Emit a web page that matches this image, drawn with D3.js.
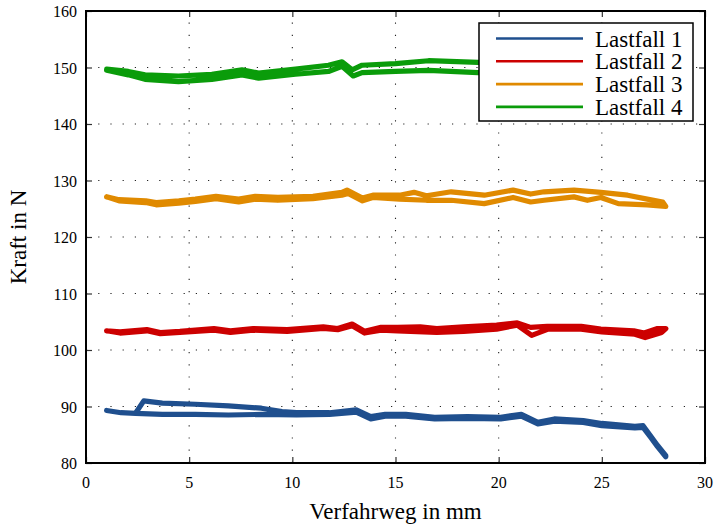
<!DOCTYPE html>
<html>
<head>
<meta charset="utf-8">
<script src="https://cdn.jsdelivr.net/npm/d3@7"></script>
<style>
  html, body { margin: 0; padding: 0; background: #fff; }
  svg { display: block; }
</style>
</head>
<body>
<svg id="chart" width="718" height="524"></svg>
<script>
// Messwerte: Kraft über Verfahrweg, je Lastfall Hin- und Rückweg
const seriesNames = ["Lastfall 1", "Lastfall 2", "Lastfall 3", "Lastfall 4"];
const seriesColors = ["#1f4f8e", "#cc0000", "#e08a00", "#0a9c0a"];

// Lastfall 1
const lf1HinX = [1.0, 1.7, 2.4, 3.7, 5.3, 6.9, 8.5, 10.2, 11.8, 13.1, 13.8, 14.5, 15.5, 16.9, 18.5, 20.1, 21.1, 21.9, 22.7, 24.1, 25.0, 26.6, 27.0, 27.4, 27.7, 28.1];
const lf1HinY = [89.3, 88.9, 88.8, 88.6, 88.6, 88.5, 88.6, 88.5, 88.6, 89.0, 87.8, 88.3, 88.3, 87.8, 87.9, 87.8, 88.3, 86.9, 87.4, 87.2, 86.6, 86.2, 86.3, 84.4, 82.9, 81.1];
const lf1RueckX = [28.1, 27.7, 27.4, 27.0, 26.6, 25.0, 24.1, 22.7, 21.9, 21.1, 20.1, 18.5, 16.9, 15.5, 14.5, 13.8, 13.1, 11.8, 10.2, 9.5, 8.5, 6.9, 5.3, 3.7, 2.8, 2.4];
const lf1RueckY = [81.3, 83.1, 84.6, 86.6, 86.5, 87.0, 87.5, 87.8, 87.2, 88.6, 88.1, 88.2, 88.1, 88.6, 88.6, 88.2, 89.4, 88.9, 88.9, 89.1, 89.7, 90.1, 90.4, 90.6, 91.0, 88.8];

// Lastfall 2
const lf2HinX = [1.0, 1.65, 2.95, 3.6, 4.55, 6.2, 7.0, 8.1, 9.75, 11.5, 12.2, 12.9, 13.5, 14.3, 15.1, 17.0, 18.3, 19.9, 20.9, 21.6, 22.4, 24.0, 25.0, 26.6, 27.1, 27.9];
const lf2HinY = [103.4, 103.0, 103.4, 102.9, 103.1, 103.5, 103.1, 103.5, 103.3, 103.8, 103.6, 104.3, 103.0, 103.5, 103.4, 103.1, 103.3, 103.7, 104.4, 102.6, 103.7, 103.7, 103.2, 102.8, 102.2, 103.1];
const lf2RueckX = [28.1, 27.7, 27.05, 26.55, 24.95, 24.0, 22.35, 21.55, 20.9, 19.9, 18.3, 17.0, 16.2, 15.1, 14.3, 13.5, 12.9, 12.2, 11.5, 9.75, 8.1, 7.0, 6.2, 4.55, 3.6, 2.95, 1.65, 1.0];
const lf2RueckY = [103.8, 103.8, 103.0, 103.4, 103.7, 104.2, 104.2, 104.0, 104.8, 104.4, 104.1, 103.8, 104.1, 104.0, 104.0, 103.3, 104.6, 103.8, 104.1, 103.6, 103.8, 103.4, 103.8, 103.3, 103.1, 103.6, 103.2, 103.4];

// Lastfall 3
const lf3HinX = [1.0, 1.6, 2.9, 3.4, 4.5, 5.3, 6.3, 7.4, 8.2, 9.3, 11.0, 12.4, 12.7, 13.4, 13.9, 15.2, 16.5, 17.7, 19.3, 20.7, 21.55, 22.2, 23.65, 24.3, 24.95, 25.8, 27.2, 28.1];
const lf3HinY = [127.1, 126.4, 126.1, 125.7, 126.0, 126.3, 126.8, 126.2, 126.7, 126.5, 126.8, 127.4, 127.7, 126.4, 127.0, 126.7, 126.5, 126.5, 125.9, 127.0, 126.2, 126.5, 127.1, 126.5, 127.0, 125.9, 125.7, 125.4];
const lf3RueckX = [28.1, 27.95, 27.2, 26.25, 24.95, 23.65, 22.2, 21.55, 20.7, 19.3, 17.7, 16.5, 15.9, 15.2, 13.9, 13.4, 12.65, 12.4, 11.0, 9.3, 8.2, 7.4, 6.3, 5.3, 4.5, 3.4, 2.9, 1.6, 1.0];
const lf3RueckY = [125.4, 126.2, 126.7, 127.4, 127.9, 128.3, 128.0, 127.6, 128.3, 127.4, 128.0, 127.3, 127.9, 127.4, 127.4, 126.9, 128.3, 127.9, 127.2, 127.0, 127.2, 126.7, 127.2, 126.7, 126.4, 126.1, 126.4, 126.6, 127.1];

// Lastfall 4
const lf4HinX = [1.0, 2.05, 2.86, 4.48, 6.1, 7.56, 8.37, 10.15, 11.75, 12.41, 12.9, 13.38, 15.0, 16.6, 19.0, 19.6];
const lf4HinY = [149.7, 149.3, 148.7, 148.5, 148.8, 149.6, 149.0, 149.7, 150.4, 151.0, 149.6, 150.4, 150.7, 151.2, 150.9, 150.9];
const lf4RueckX = [19.6, 19.0, 16.6, 15.0, 13.38, 12.95, 12.41, 11.75, 10.15, 8.37, 7.56, 6.1, 4.48, 2.86, 2.05, 1.0];
const lf4RueckY = [149.1, 149.1, 149.5, 149.3, 149.1, 148.5, 150.2, 149.3, 148.8, 148.1, 148.7, 147.9, 147.5, 147.9, 148.7, 149.5];

const xTicks = [0, 5, 10, 15, 20, 25, 30];
const yTicks = [80, 90, 100, 110, 120, 130, 140, 150, 160];

const series = [
  { hinX: lf1HinX, hinY: lf1HinY, rueckX: lf1RueckX, rueckY: lf1RueckY },
  { hinX: lf2HinX, hinY: lf2HinY, rueckX: lf2RueckX, rueckY: lf2RueckY },
  { hinX: lf3HinX, hinY: lf3HinY, rueckX: lf3RueckX, rueckY: lf3RueckY },
  { hinX: lf4HinX, hinY: lf4HinY, rueckX: lf4RueckX, rueckY: lf4RueckY }
];

// Layout
const plot = { left: 86, right: 705, top: 11, bottom: 463 };
const svg = d3.select("#chart");

const x = d3.scaleLinear().domain([0, 30]).range([plot.left, plot.right]);
const y = d3.scaleLinear().domain([80, 160]).range([plot.bottom, plot.top]);

// Dotted grid
const grid = svg.append("g").attr("class", "grid")
  .attr("stroke", "#222").attr("stroke-width", 1.1)
  .attr("stroke-dasharray", "1.2,11");
grid.selectAll("line.gx").data(xTicks.slice(1, -1)).join("line")
  .attr("x1", d => x(d)).attr("x2", d => x(d))
  .attr("y1", plot.bottom).attr("y2", plot.top);
grid.selectAll("line.gy").data(yTicks.slice(1, -1)).join("line")
  .attr("y1", d => y(d)).attr("y2", d => y(d))
  .attr("x1", plot.left).attr("x2", plot.right);

// Data lines (Hinweg + Rückweg as one trace)
const line = d3.line().x(d => x(d[0])).y(d => y(d[1]));
const dataG = svg.append("g").attr("class", "data");
series.forEach((s, i) => {
  const pts = s.hinX.map((v, k) => [v, s.hinY[k]])
    .concat(s.rueckX.map((v, k) => [v, s.rueckY[k]]));
  dataG.append("path")
    .attr("d", line(pts))
    .attr("fill", "none")
    .attr("stroke", seriesColors[i])
    .attr("stroke-width", 5.2)
    .attr("stroke-linejoin", "round")
    .attr("stroke-linecap", "round");
});

// Axes with inward ticks on all four sides
const tickLen = 6;
const tickStyle = g => {
  g.select(".domain").remove();
  g.selectAll(".tick line").attr("stroke", "#333").attr("stroke-width", 1.2);
};
const tickFont = g => g.selectAll("text")
  .attr("font-family", "'DejaVu Sans Mono', monospace")
  .attr("font-size", 16)
  .attr("letter-spacing", 1.4)
  .attr("fill", "#4a4a4a");

svg.append("g").attr("transform", `translate(0,${plot.bottom})`)
  .call(d3.axisTop(x).tickValues(xTicks).tickSize(tickLen).tickFormat(""))
  .call(tickStyle);
svg.append("g").attr("transform", `translate(0,${plot.top})`)
  .call(d3.axisBottom(x).tickValues(xTicks).tickSize(tickLen).tickFormat(""))
  .call(tickStyle);
svg.append("g").attr("transform", `translate(${plot.left},0)`)
  .call(d3.axisRight(y).tickValues(yTicks).tickSize(tickLen).tickFormat(""))
  .call(tickStyle);
svg.append("g").attr("transform", `translate(${plot.right},0)`)
  .call(d3.axisLeft(y).tickValues(yTicks).tickSize(tickLen).tickFormat(""))
  .call(tickStyle);

// Tick labels
svg.append("g").selectAll("text").data(xTicks).join("text")
  .attr("x", d => x(d)).attr("y", 488)
  .attr("text-anchor", "middle")
  .text(d => d)
  .call(tickFont);
svg.append("g").selectAll("text").data(yTicks).join("text")
  .attr("x", 77).attr("y", d => y(d) + 6)
  .attr("text-anchor", "end")
  .text(d => d)
  .call(tickFont);

// Frame
svg.append("rect")
  .attr("x", plot.left).attr("y", plot.top)
  .attr("width", plot.right - plot.left).attr("height", plot.bottom - plot.top)
  .attr("fill", "none").attr("stroke", "#000").attr("stroke-width", 2);

// Axis titles
svg.append("text")
  .attr("x", (plot.left + plot.right) / 2).attr("y", 519)
  .attr("text-anchor", "middle")
  .attr("font-family", "'Liberation Serif', 'Times New Roman', serif")
  .attr("font-size", 23)
  .text("Verfahrweg in mm");
svg.append("text")
  .attr("transform", `translate(26,${(plot.top + plot.bottom) / 2}) rotate(-90)`)
  .attr("text-anchor", "middle")
  .attr("font-family", "'Liberation Serif', 'Times New Roman', serif")
  .attr("font-size", 23)
  .text("Kraft in N");

// Legend
const legend = svg.append("g").attr("class", "legend");
legend.append("rect")
  .attr("x", 479).attr("y", 23)
  .attr("width", 214).attr("height", 98)
  .attr("fill", "#fff").attr("stroke", "#000").attr("stroke-width", 1.5);
const rows = legend.selectAll("g.row").data(seriesNames).join("g")
  .attr("transform", (d, i) => `translate(0,${38.5 + i * 22.8})`);
rows.append("line")
  .attr("x1", 496).attr("x2", 583).attr("y1", 0).attr("y2", 0)
  .attr("stroke", (d, i) => seriesColors[i]).attr("stroke-width", 2.6);
rows.append("text")
  .attr("x", 595).attr("y", 8)
  .attr("font-family", "'Liberation Serif', 'Times New Roman', serif")
  .attr("font-size", 23)
  .text(d => d);
</script>
</body>
</html>
